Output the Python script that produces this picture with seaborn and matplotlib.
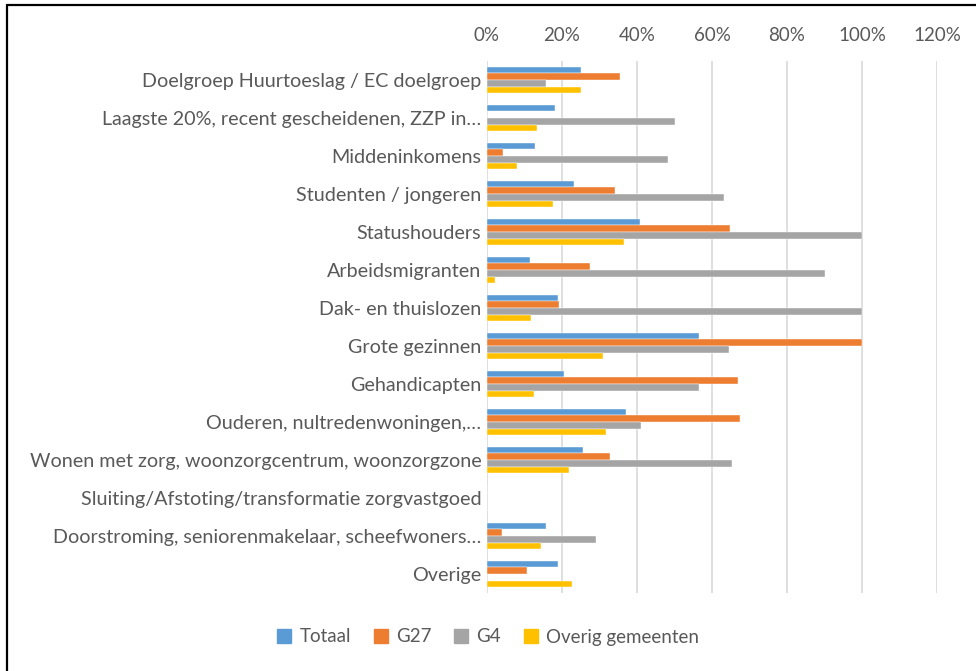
import matplotlib
matplotlib.use("Agg")
import matplotlib.pyplot as plt
import seaborn as sns
import pandas as pd
from matplotlib.ticker import PercentFormatter
from matplotlib.lines import Line2D

categories = [
    "Doelgroep Huurtoeslag / EC doelgroep",
    "Laagste 20%, recent gescheidenen, ZZP in…",
    "Middeninkomens",
    "Studenten / jongeren",
    "Statushouders",
    "Arbeidsmigranten",
    "Dak- en thuislozen",
    "Grote gezinnen",
    "Gehandicapten",
    "Ouderen, nultredenwoningen,…",
    "Wonen met zorg, woonzorgcentrum, woonzorgzone",
    "Sluiting/Afstoting/transformatie zorgvastgoed",
    "Doorstroming, seniorenmakelaar, scheefwoners…",
    "Overige",
]
series = ["Totaal", "G27", "G4", "Overig gemeenten"]
totaal = [0.251, 0.182, 0.127, 0.233, 0.407, 0.114, 0.188, 0.564, 0.206, 0.370, 0.257, 0.0, 0.156, 0.189]
g27 = [0.354, 0.0, 0.042, 0.342, 0.649, 0.274, 0.192, 1.0, 0.668, 0.674, 0.328, 0.0, 0.039, 0.107]
g4 = [0.158, 0.500, 0.482, 0.633, 1.0, 0.900, 1.0, 0.644, 0.564, 0.411, 0.653, 0.0, 0.290, 0.0]
overig = [0.251, 0.132, 0.080, 0.176, 0.366, 0.020, 0.116, 0.309, 0.124, 0.317, 0.219, 0.0, 0.145, 0.227]
colors = ["#5B9BD5", "#ED7D31", "#A5A5A5", "#FFC000"]
xticks = [0, 0.2, 0.4, 0.6, 0.8, 1.0, 1.2]

rows = []
for s, vals in zip(series, [totaal, g27, g4, overig]):
    for c, v in zip(categories, vals):
        rows.append({"cat": c, "val": v, "series": s})
df = pd.DataFrame(rows)

sns.set_style("white")
plt.rcParams["font.family"] = ["Lato", "DejaVu Sans"]

fig = plt.figure(figsize=(9.76, 6.71), dpi=100)
ax = fig.add_axes([487/976, 1-593/671, 450/976, (593-61)/671])

sns.barplot(data=df, y="cat", x="val", hue="series", order=categories,
            hue_order=series, palette=colors, saturation=1, width=0.7, orient="h",
            edgecolor="white", linewidth=0.3, ax=ax, legend=False)

ax.set_xlim(0, 1.2)
ax.set_xticks(xticks)
ax.xaxis.set_major_formatter(PercentFormatter(1.0, decimals=0))
ax.xaxis.tick_top()
ax.tick_params(axis="x", length=0, pad=12, labelsize=13.5, labelcolor="#595959")
ax.tick_params(axis="y", length=0, pad=4, labelsize=14.2, labelcolor="#595959")
ax.set_xlabel("")
ax.set_ylabel("")
ax.grid(axis="x", color="#D9D9D9", linewidth=1.2)
ax.set_axisbelow(True)
for sp in ax.spines.values():
    sp.set_visible(False)
ax.set_ylim(len(categories) - 0.5, -0.5)

handles = [Line2D([0], [0], marker="s", linestyle="", markersize=10,
                  markerfacecolor=c, markeredgecolor=c) for c in colors]
fig.legend(handles, series, loc="center", bbox_to_anchor=(0.5, 1-637/671),
           ncol=4, frameon=False, fontsize=13.5, handletextpad=0.4,
           columnspacing=1.2, labelcolor="#595959", handlelength=0.8)

fig.add_artist(Line2D([7/976, 7/976], [0, 1-5/671], transform=fig.transFigure,
                      color="black", linewidth=1.6))
fig.add_artist(Line2D([7/976, 1], [1-5/671, 1-5/671], transform=fig.transFigure,
                      color="black", linewidth=1.6))

fig.savefig("out.png", dpi=100, facecolor="white")
